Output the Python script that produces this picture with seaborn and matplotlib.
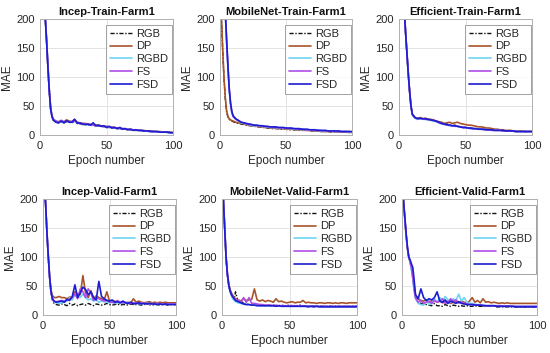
import numpy as np
import pandas as pd
import matplotlib
matplotlib.use('Agg')
import matplotlib.pyplot as plt
import seaborn as sns

# epoch grid shared by all curves
epochs = list(range(1, 11)) + list(range(12, 101, 2))

series_names = ['RGB', 'DP', 'RGBD', 'FS', 'FSD']
colors = {'RGB': '#111111', 'DP': '#a8542a', 'RGBD': '#6fd3f2', 'FS': '#b04ee6', 'FSD': '#1c1cd0'}

titles = ['Incep-Train-Farm1', 'MobileNet-Train-Farm1', 'Efficient-Train-Farm1',
          'Incep-Valid-Farm1', 'MobileNet-Valid-Farm1', 'Efficient-Valid-Farm1']

# --- Incep train
inc_tr_rgb = [380, 310, 250, 200, 158, 112, 72, 44, 31, 25,
              22, 21, 23, 21, 23, 22, 21, 24, 20, 19, 18, 18, 17, 17, 16, 16, 15, 15, 14, 13,
              13, 12, 12, 11, 11, 10, 10, 9, 9, 8, 8, 8, 7, 7, 7, 6, 6, 6, 5, 5, 5, 5, 4, 4, 4]
inc_tr_dp = [380, 312, 252, 202, 162, 118, 78, 47, 33, 27,
             24, 23, 25, 23, 26, 24, 23, 27, 22, 21, 20, 20, 19, 18, 18, 17, 17, 16, 15, 15,
             14, 14, 13, 12, 12, 11, 11, 10, 10, 9, 9, 8, 8, 8, 7, 7, 7, 6, 6, 6, 5, 5, 5, 5, 4]
inc_tr_rgbd = [380, 310, 250, 200, 160, 116, 76, 46, 32, 26,
               23, 22, 25, 23, 24, 22, 22, 25, 21, 20, 19, 18, 18, 17, 17, 16, 16, 15, 14, 14,
               13, 13, 12, 12, 11, 11, 10, 10, 9, 9, 8, 8, 7, 7, 7, 6, 6, 6, 5, 5, 5, 5, 4, 4, 4]
inc_tr_fs = [380, 310, 251, 201, 161, 116, 76, 46, 33, 27,
             24, 22, 25, 22, 24, 23, 23, 25, 22, 20, 19, 19, 18, 18, 17, 16, 16, 15, 15, 14,
             14, 13, 13, 12, 11, 11, 10, 10, 9, 9, 8, 8, 8, 7, 7, 6, 6, 6, 6, 5, 5, 5, 5, 4, 4]
inc_tr_fsd = [380, 310, 250, 200, 160, 115, 75, 45, 32, 26,
              22, 21, 24, 21, 25, 22, 22, 27, 20, 21, 19, 18, 19, 17, 21, 16, 17, 15, 16, 13,
              15, 12, 13, 11, 13, 10, 11, 9, 10, 8, 9, 8, 8, 7, 7, 7, 6, 6, 6, 5, 5, 5, 5, 4, 4]

# --- MobileNet train
mob_tr_rgb = [205, 148, 98, 63, 40, 31, 27, 25, 24, 23,
              21, 20, 19, 18, 17, 16, 16, 15, 14, 14, 13, 13, 12, 12, 11, 11, 11, 10, 10, 10,
              9, 9, 9, 9, 8, 8, 8, 8, 7, 7, 7, 7, 6, 6, 6, 6, 5, 5, 5, 5, 5, 5, 5, 4, 4]
mob_tr_dp = [210, 150, 100, 65, 42, 32, 28, 26, 25, 24,
             22, 21, 20, 19, 18, 17, 16, 16, 15, 14, 14, 13, 13, 12, 12, 12, 11, 11, 11, 10,
             10, 10, 10, 9, 9, 9, 8, 8, 8, 7, 7, 7, 7, 6, 6, 6, 6, 6, 5, 5, 5, 5, 5, 5, 5]
mob_tr_rgbd = [415, 335, 265, 210, 160, 115, 77, 52, 38, 31,
               27, 24, 21, 20, 19, 18, 17, 16, 16, 15, 15, 14, 14, 13, 13, 13, 12, 12, 12, 11,
               11, 11, 10, 10, 10, 9, 9, 9, 8, 8, 8, 8, 7, 7, 7, 7, 6, 6, 6, 6, 6, 6, 6, 5, 5]
mob_tr_fs = [418, 338, 268, 212, 163, 118, 79, 54, 39, 32,
             27, 25, 22, 21, 19, 18, 18, 17, 16, 16, 15, 15, 14, 14, 13, 13, 13, 12, 12, 12,
             11, 11, 11, 10, 10, 10, 9, 9, 9, 8, 8, 8, 8, 7, 7, 7, 7, 6, 6, 6, 6, 6, 6, 6, 5]
mob_tr_fsd = [420, 340, 270, 215, 165, 120, 80, 55, 40, 33,
              28, 25, 22, 21, 20, 19, 18, 17, 17, 16, 16, 15, 15, 14, 14, 14, 13, 13, 13, 12,
              12, 12, 11, 11, 11, 10, 10, 10, 9, 9, 9, 8, 8, 8, 8, 7, 7, 7, 7, 7, 6, 6, 6, 6, 6]

# --- Efficient train
eff_tr_rgb = [400, 330, 270, 215, 174, 139, 104, 74, 49, 35,
              29, 28, 29, 27, 28, 26, 26, 25, 23, 22, 20, 18, 19, 17, 16, 17, 15, 14, 13, 13,
              12, 12, 11, 11, 10, 10, 9, 9, 9, 8, 8, 8, 8, 7, 7, 7, 7, 6, 6, 6, 6, 6, 6, 6, 5]
eff_tr_dp = [400, 330, 270, 215, 175, 140, 105, 75, 50, 36,
             30, 29, 30, 28, 29, 27, 27, 26, 24, 23, 22, 20, 21, 22, 20, 21, 22, 20, 19, 18,
             17, 17, 16, 15, 14, 14, 13, 12, 12, 11, 10, 10, 9, 9, 8, 8, 8, 7, 7, 7, 7, 6, 6, 6, 6]
eff_tr_rgbd = [400, 330, 270, 215, 175, 140, 104, 74, 49, 35,
               29, 27, 28, 27, 27, 26, 25, 24, 23, 21, 19, 18, 17, 16, 16, 15, 15, 14, 13, 12,
               12, 11, 11, 10, 10, 10, 9, 9, 9, 8, 8, 8, 8, 7, 7, 7, 7, 6, 6, 6, 6, 6, 6, 6, 6]
eff_tr_fs = [400, 330, 270, 215, 175, 140, 105, 75, 50, 36,
             30, 29, 28, 28, 27, 27, 26, 25, 24, 21, 20, 19, 17, 17, 16, 15, 15, 14, 13, 13,
             12, 11, 11, 11, 10, 10, 9, 9, 9, 8, 8, 8, 8, 7, 7, 7, 7, 7, 6, 6, 6, 6, 6, 6, 6]
eff_tr_fsd = [400, 330, 270, 215, 175, 140, 105, 75, 50, 36,
              30, 28, 29, 28, 28, 27, 26, 25, 24, 22, 20, 19, 18, 17, 16, 16, 15, 14, 13, 13,
              12, 12, 11, 11, 10, 10, 10, 9, 9, 9, 8, 8, 8, 8, 7, 7, 7, 7, 6, 6, 6, 6, 6, 6, 6]

# --- Incep valid
inc_va_rgb = [230, 188, 138, 98, 62, 38, 26, 21, 19, 18,
              17, 19, 18, 16, 20, 17, 19, 16, 18, 19, 17, 20, 18, 16, 19, 18, 17, 18, 20, 18,
              17, 18, 19, 17, 18, 18, 17, 19, 18, 18, 18, 17, 18, 19, 18, 17, 18, 18, 17, 18,
              18, 17, 18, 18, 18]
inc_va_dp = [230, 190, 142, 102, 66, 44, 34, 31, 30, 30,
             32, 30, 30, 28, 31, 30, 40, 36, 35, 68, 38, 30, 42, 28, 33, 30, 28, 26, 40, 24,
             22, 24, 22, 21, 23, 20, 22, 21, 28, 22, 24, 22, 21, 22, 23, 21, 22, 21, 22, 21,
             22, 21, 21, 21, 21]
inc_va_rgbd = [230, 189, 140, 100, 64, 40, 28, 24, 22, 21,
               20, 21, 22, 24, 30, 26, 35, 32, 30, 36, 30, 26, 28, 24, 26, 22, 24, 23, 22, 21,
               22, 20, 21, 22, 20, 21, 20, 21, 20, 20, 20, 19, 20, 20, 19, 20, 19, 20, 19, 19,
               19, 19, 19, 19, 19]
inc_va_fs = [230, 190, 140, 100, 64, 40, 28, 24, 23, 23,
             24, 25, 24, 26, 28, 30, 36, 28, 45, 40, 30, 45, 38, 25, 30, 28, 26, 24, 26, 22,
             22, 21, 25, 22, 21, 22, 21, 20, 21, 20, 20, 21, 20, 20, 19, 20, 19, 20, 19, 19,
             19, 19, 19, 19, 19]
inc_va_fsd = [230, 190, 141, 100, 65, 41, 29, 25, 23, 22,
              23, 24, 22, 27, 25, 32, 52, 30, 38, 48, 44, 35, 40, 30, 26, 58, 32, 28, 25, 24,
              26, 22, 23, 21, 24, 21, 20, 22, 19, 20, 21, 19, 20, 19, 20, 19, 19, 18, 19, 18,
              19, 18, 18, 18, 18]

# --- MobileNet valid
mob_va_rgb = [200, 148, 98, 68, 50, 40, 34, 30, 27, 40,
              22, 24, 20, 19, 18, 17, 18, 17, 18, 17, 16, 17, 16, 17, 16, 16, 17, 16, 16, 17,
              16, 16, 16, 17, 16, 16, 16, 16, 16, 16, 16, 16, 15, 16, 16, 15, 16, 16, 15, 16,
              16, 15, 16, 16, 16]
mob_va_dp = [200, 152, 102, 72, 54, 44, 38, 34, 30, 28,
             26, 24, 28, 25, 26, 27, 45, 26, 24, 26, 23, 25, 24, 22, 28, 23, 24, 22, 21, 22,
             23, 21, 22, 22, 25, 21, 22, 21, 21, 20, 21, 21, 20, 21, 21, 20, 21, 20, 21, 21,
             20, 21, 21, 21, 21]
mob_va_rgbd = [200, 149, 99, 69, 51, 40, 33, 28, 25, 23,
               21, 20, 19, 18, 18, 17, 17, 17, 16, 16, 16, 16, 16, 16, 16, 15, 16, 15, 16, 15,
               15, 15, 16, 15, 15, 15, 15, 15, 15, 15, 15, 15, 15, 15, 15, 15, 15, 15, 15, 15,
               15, 15, 15, 15, 15]
mob_va_fs = [200, 150, 100, 70, 52, 42, 36, 32, 29, 27,
             25, 22, 30, 22, 30, 20, 20, 19, 18, 18, 17, 17, 17, 16, 17, 16, 16, 16, 16, 16,
             16, 16, 16, 15, 16, 15, 16, 15, 15, 15, 15, 15, 15, 15, 15, 15, 15, 15, 15, 15,
             15, 15, 15, 15, 15]
mob_va_fsd = [200, 150, 100, 70, 52, 41, 35, 31, 28, 25,
              23, 21, 19, 18, 18, 17, 17, 16, 16, 16, 16, 16, 16, 16, 15, 16, 15, 15, 15, 15,
              15, 15, 15, 15, 15, 15, 14, 15, 14, 15, 14, 14, 14, 14, 14, 14, 14, 14, 14, 14,
              14, 14, 14, 14, 14]

# --- Efficient valid
eff_va_rgb = [200, 170, 140, 115, 100, 92, 80, 65, 45, 30,
              22, 20, 19, 18, 17, 16, 20, 16, 16, 15, 18, 16, 15, 17, 16, 15, 16, 15, 16, 15,
              15, 16, 15, 15, 15, 15, 15, 15, 15, 14, 14, 14, 14, 14, 14, 14, 14, 14, 14, 14,
              14, 14, 14, 14, 14]
eff_va_dp = [200, 168, 138, 115, 100, 92, 82, 68, 50, 34,
             28, 25, 24, 26, 22, 24, 25, 22, 24, 21, 22, 24, 20, 22, 23, 21, 24, 22, 20, 24,
             30, 22, 25, 21, 28, 22, 23, 21, 22, 21, 20, 21, 20, 21, 20, 20, 20, 20, 20, 20,
             20, 20, 20, 20, 20]
eff_va_rgbd = [200, 170, 140, 115, 100, 90, 78, 62, 42, 28,
               20, 18, 17, 25, 18, 20, 28, 22, 30, 24, 32, 26, 22, 28, 25, 36, 24, 30, 22, 20,
               20, 18, 18, 17, 17, 16, 16, 16, 16, 16, 15, 15, 15, 15, 15, 15, 15, 15, 15, 15,
               15, 15, 15, 15, 15]
eff_va_fs = [200, 170, 140, 116, 101, 92, 80, 64, 44, 30,
             22, 25, 20, 22, 24, 20, 25, 22, 24, 28, 20, 22, 28, 24, 26, 21, 22, 20, 19, 18,
             18, 18, 17, 17, 17, 16, 16, 16, 16, 16, 16, 16, 15, 16, 15, 15, 15, 15, 15, 15,
             15, 15, 15, 15, 15]
eff_va_fsd = [200, 172, 142, 118, 100, 95, 88, 82, 60, 35,
              28, 45, 30, 25, 28, 26, 30, 40, 24, 22, 26, 20, 24, 22, 20, 23, 20, 19, 18, 18,
              18, 17, 17, 17, 16, 16, 16, 16, 16, 15, 15, 15, 15, 15, 15, 15, 14, 14, 14, 14,
              14, 14, 14, 14, 14]

panels = [
    [inc_tr_rgb, inc_tr_dp, inc_tr_rgbd, inc_tr_fs, inc_tr_fsd],
    [mob_tr_rgb, mob_tr_dp, mob_tr_rgbd, mob_tr_fs, mob_tr_fsd],
    [eff_tr_rgb, eff_tr_dp, eff_tr_rgbd, eff_tr_fs, eff_tr_fsd],
    [inc_va_rgb, inc_va_dp, inc_va_rgbd, inc_va_fs, inc_va_fsd],
    [mob_va_rgb, mob_va_dp, mob_va_rgbd, mob_va_fs, mob_va_fsd],
    [eff_va_rgb, eff_va_dp, eff_va_rgbd, eff_va_fs, eff_va_fsd],
]

sns.set_style('white')
plt.rcParams['font.family'] = ['Liberation Sans', 'DejaVu Sans']

W, H = 550, 353
fig = plt.figure(figsize=(W / 100, H / 100), dpi=100)

# axes boxes in pixels: left, top, right, bottom
boxes = [(40, 19, 173, 135), (220, 19, 352, 135), (399, 19, 532, 135),
         (43, 199, 176, 315), (222, 199, 357, 315), (402, 199, 537, 315)]

for title, data, (l, t, r, b) in zip(titles, panels, boxes):
    ax = fig.add_axes([l / W, 1 - b / H, (r - l) / W, (b - t) / H])
    for name, vals in zip(series_names, data):
        df = pd.DataFrame({'epoch': epochs, 'mae': vals})
        ls = (0, (3, 1.2, 1, 1.2)) if name == 'RGB' else '-'
        lw = 1.0 if name == 'RGB' else 1.2
        sns.lineplot(data=df, x='epoch', y='mae', ax=ax, color=colors[name],
                     linestyle=ls, linewidth=lw, label=name)
    ax.set_xlim(0, 100)
    ax.set_ylim(0, 200)
    ax.set_xticks([0, 50, 100])
    ax.set_yticks([0, 50, 100, 150, 200])
    ax.grid(True, color='#e3e3e3', linewidth=0.7)
    ax.set_axisbelow(True)
    for sp in ax.spines.values():
        sp.set_color('#b0b0b0')
        sp.set_linewidth(0.7)
    ax.tick_params(labelsize=8, colors='#262626', length=0, pad=4)
    ax.set_xlabel('Epoch number', fontsize=8.5, color='#262626', labelpad=3)
    ax.set_ylabel('MAE', fontsize=8.5, color='#262626', labelpad=2)
    ax.set_title(title, fontsize=8, fontweight='bold', color='#111111', pad=3)
    leg = ax.legend(loc='upper right', bbox_to_anchor=(0.99, 0.95), fontsize=8,
                    handlelength=2.0, handletextpad=0.3, labelspacing=0.25,
                    borderpad=0.35, borderaxespad=0, frameon=True, fancybox=False)
    leg.get_frame().set_edgecolor('#8a8a8a')
    leg.get_frame().set_linewidth(0.7)

fig.savefig('out.png', dpi=100)
